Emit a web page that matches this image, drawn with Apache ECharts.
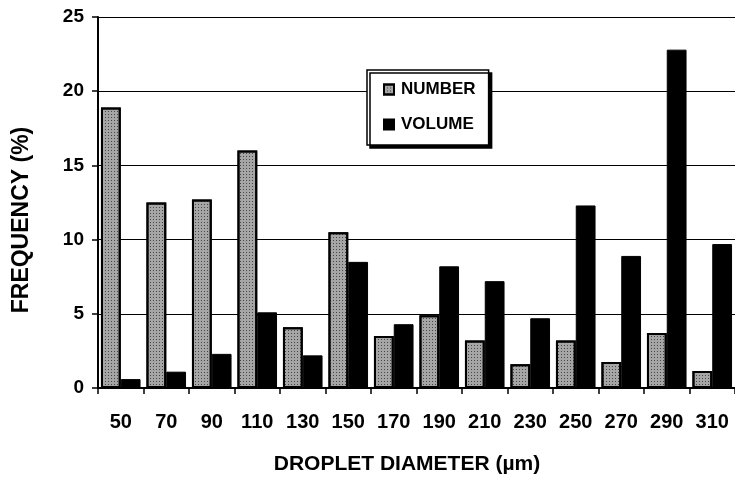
<!DOCTYPE html>
<html><head><meta charset="utf-8">
<script src="https://cdn.jsdelivr.net/npm/echarts@6/dist/echarts.min.js"></script>
<style>html,body{margin:0;padding:0;background:#fff}#c{width:735px;height:481px}</style>
</head><body><div id="c"></div>
<script>
var categories = ['50','70','90','110','130','150','170','190','210','230','250','270','290','310'];
var numberValues = [18.9, 12.5, 12.7, 16.0, 4.1, 10.5, 3.5, 4.9, 3.2, 1.6, 3.2, 1.75, 3.7, 1.15];
var volumeValues = [0.6, 1.1, 2.3, 5.1, 2.2, 8.5, 4.3, 8.2, 7.2, 4.7, 12.3, 8.9, 22.8, 9.7];
var yTicks = [0, 5, 10, 15, 20, 25];
var xTitle = 'DROPLET DIAMETER (µm)';
var yTitle = 'FREQUENCY (%)';

var FONT = '"Liberation Sans", Arial, sans-serif';
var chart = echarts.init(document.getElementById('c'), null, {renderer: 'canvas'});
var speckle = {symbol: 'rect', symbolSize: 1, dashArrayX: [1, 2], dashArrayY: [1, 2], color: 'rgba(30,30,30,0.7)', rotation: 0};
chart.setOption({
  animation: false,
  backgroundColor: '#fff',
  grid: {left: 98, right: -13, top: 17, bottom: 93, containLabel: false},
  legend: {
    orient: 'vertical', left: 367, top: 70,
    padding: [11, 13, 12, 16], itemGap: 18,
    itemWidth: 10, itemHeight: 10,
    backgroundColor: '#fff', borderColor: '#000', borderWidth: 1.5,
    shadowColor: '#000', shadowBlur: 0, shadowOffsetX: 3, shadowOffsetY: 3,
    textStyle: {fontFamily: FONT, fontWeight: 'bold', fontSize: 17, color: '#000', padding: [0, 0, 0, 2]},
    data: [{name: 'NUMBER', icon: 'rect'}, {name: 'VOLUME', icon: 'rect'}]
  },
  graphic: [
    {type: 'text', x: 407, y: 464, style: {text: xTitle, fontFamily: FONT, fontWeight: 'bold', fontSize: 21, fill: '#000', align: 'center', verticalAlign: 'middle'}},
    {type: 'text', x: 22, y: 220, rotation: Math.PI / 2, style: {text: yTitle, fontFamily: FONT, fontWeight: 'bold', fontSize: 23, fill: '#000', align: 'center', verticalAlign: 'middle'}}
  ],
  xAxis: {
    type: 'category', data: categories, boundaryGap: true,
    axisLine: {lineStyle: {color: '#000', width: 2}},
    axisTick: {show: true, alignWithLabel: false, length: 6, lineStyle: {color: '#000', width: 1.5}},
    axisLabel: {fontFamily: FONT, fontWeight: 'bold', fontSize: 20, color: '#000', margin: 24, interval: 0},
    splitLine: {show: false}
  },
  yAxis: {
    type: 'value', min: yTicks[0], max: yTicks[yTicks.length - 1], interval: 5,
    axisLine: {show: true, lineStyle: {color: '#000', width: 2}},
    axisTick: {show: true, length: 6, lineStyle: {color: '#000', width: 1.5}},
    axisLabel: {fontFamily: FONT, fontWeight: 'bold', fontSize: 19, color: '#000', margin: 14},
    splitLine: {show: true, lineStyle: {color: '#000', width: 1.2}}
  },
  series: [
    {name: 'NUMBER', type: 'bar', data: numberValues, barGap: '0%', barCategoryGap: '13%',
     itemStyle: {color: '#a6a6a6', borderColor: '#000', borderWidth: 2, decal: speckle}},
    {name: 'VOLUME', type: 'bar', data: volumeValues, barGap: '0%', barCategoryGap: '13%',
     itemStyle: {color: '#000', borderColor: '#000', borderWidth: 1}}
  ]
});
</script></body></html>
